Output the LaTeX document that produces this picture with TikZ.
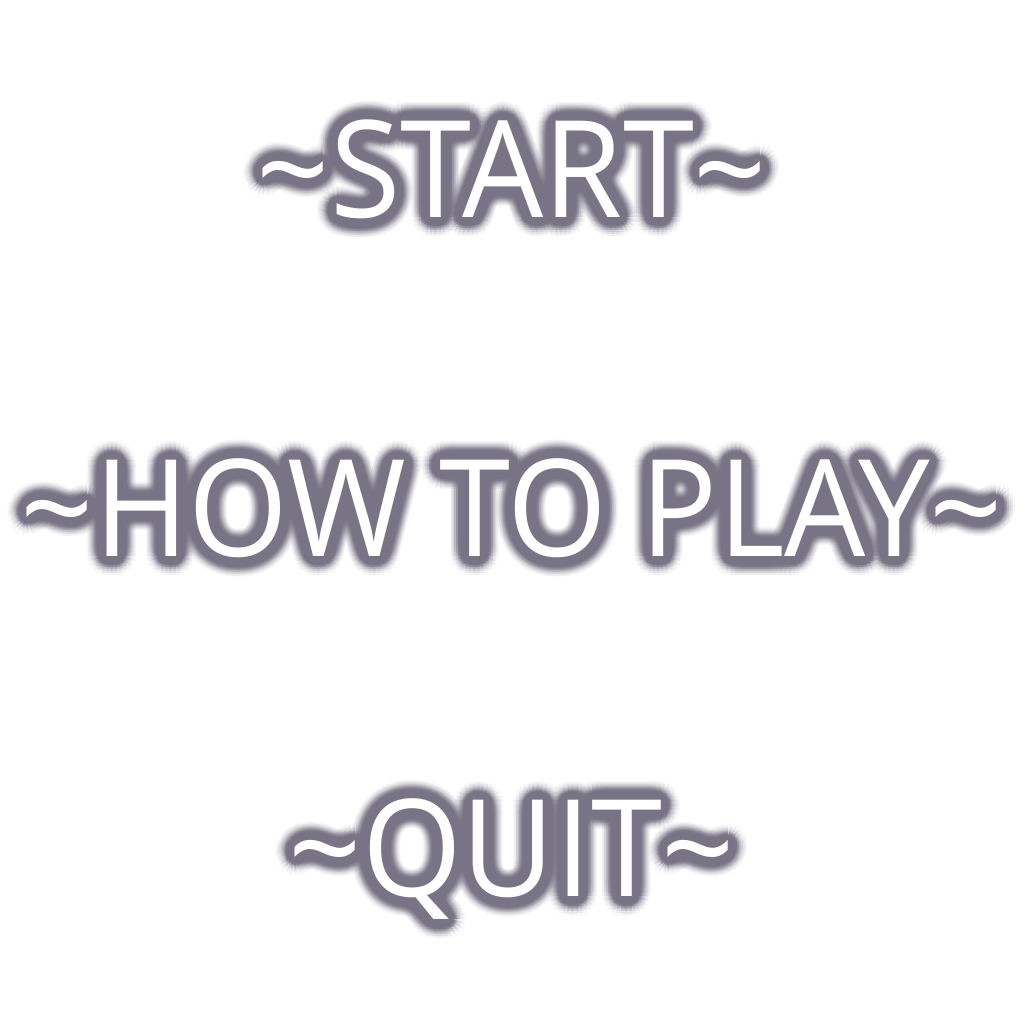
\documentclass[tikz,border=0pt]{standalone}
\usepackage{fontspec}
\setmainfont{Open Sans}[FakeStretch=0.95]
\usepackage{tikz}

\definecolor{glowc}{RGB}{120,116,134}

\tikzset{
  menu/.style={font=\fontsize{38.4}{40}\selectfont, anchor=base, inner sep=0pt, text=white},
  halo/.style={menu, text=glowc, text opacity=#1},
}

% text with a soft dark halo, then the white text on top
\newcommand{\menuitem}[3]{%
  \foreach \r/\op in {0.19/0.04, 0.17/0.05, 0.15/0.07, 0.13/0.12, 0.11/0.25, 0.09/0.6, 0.07/1, 0.05/1, 0.03/1} {
    \foreach \a in {0,15,...,345} {
      \node[halo=\op] at ([shift={(\a:\r)}]#2) {#3};
    }
  }
  \node[menu] (#1) at (#2) {#3};
}

\begin{document}
\begin{tikzpicture}
\useasboundingbox (0,0) rectangle (10.24,10.24);
\fill[white] (0,0) rectangle (10.24,10.24);

\menuitem{start}{5.12,8.06}{\textasciitilde START\textasciitilde}
\menuitem{howto}{5.12,4.67}{\textasciitilde HOW TO PLAY\textasciitilde}
\menuitem{quit}{5.12,1.27}{\textasciitilde QUIT\textasciitilde}
\end{tikzpicture}
\end{document}
